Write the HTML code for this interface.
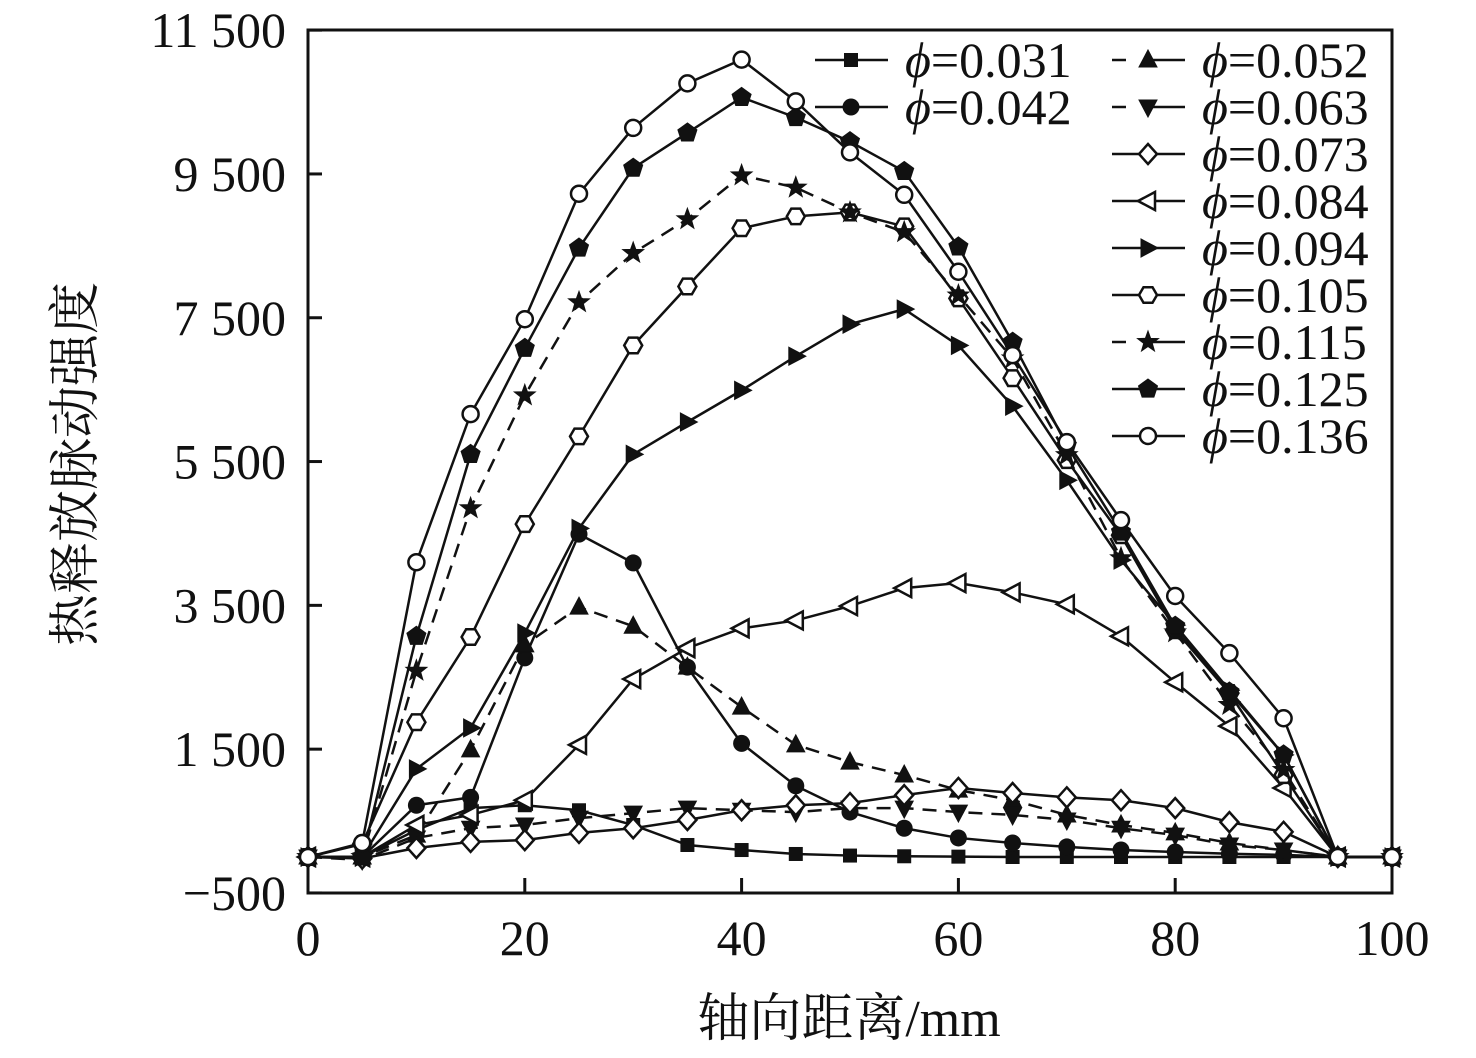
<!DOCTYPE html>
<html><head><meta charset="utf-8"><style>
body{margin:0;background:#fff;}
svg text{font-family:"Liberation Serif","Noto Serif CJK SC",serif;fill:#111;}
</style></head><body>
<svg id="chart" width="1476" height="1053" viewBox="0 0 1476 1053" xmlns="http://www.w3.org/2000/svg">
<rect x="308" y="30" width="1084" height="863" fill="none" stroke="#111" stroke-width="3"/>
<g id="ticks"></g>
<g id="series"></g>
<g id="legend"></g>
<text x="849" y="1036" font-size="52" text-anchor="middle">轴向距离/mm</text>
<text x="0" y="0" font-size="52" text-anchor="middle" transform="translate(93,464) rotate(-90)">热释放脉动强度</text>
</svg>
<script>
const xs=[0,5,10,15,20,25,30,35,40,45,50,55,60,65,70,75,80,85,90,95,100];
const labels=["ϕ=0.031","ϕ=0.042","ϕ=0.052","ϕ=0.063","ϕ=0.073","ϕ=0.084","ϕ=0.094","ϕ=0.105","ϕ=0.115","ϕ=0.125","ϕ=0.136"];
const s031=[0,0,375,680,720,650,445,167,97,42,20,10,5,0,0,0,0,0,0,0,0];
const s042=[0,0,720,830,2770,4490,4090,2640,1580,990,625,400,265,195,140,97,70,45,30,0,0];
const s052=[0,0,305,1490,2950,3475,3210,2640,2085,1560,1320,1140,930,790,585,445,335,195,97,0,0];
const s063=[0,-40,265,400,445,540,610,680,650,625,680,680,625,585,515,400,305,167,97,0,0];
const s073=[0,-20,125,210,235,335,400,515,650,720,750,860,960,890,830,790,680,485,350,0,0];
const s084=[0,0,445,585,790,1560,2475,2905,3180,3290,3490,3740,3810,3680,3515,3070,2430,1820,960,0,0];
const s094=[0,0,1225,1795,3115,4570,5600,6050,6490,6965,7410,7620,7115,6270,5240,4130,3225,2320,1420,0,0];
const s105=[0,180,1875,3060,4630,5850,7115,7935,8745,8910,8965,8770,7770,6660,5520,4475,3155,2280,1140,0,0];
const s115=[0,0,2590,4850,6420,7715,8400,8870,9480,9310,8965,8690,7810,6935,5590,4155,3125,2115,1210,0,0];
const s125=[0,0,3070,5600,7075,8470,9580,10070,10565,10285,9950,9535,8485,7160,5725,4520,3210,2295,1420,0,0];
const s136=[0,195,4100,6160,7480,9225,10140,10760,11090,10510,9800,9210,8140,6980,5770,4685,3630,2835,1930,0,0];
const yTicks=[-500,1500,3500,5500,7500,9500,11500];
const yTickLabels=["−500","1 500","3 500","5 500","7 500","9 500","11 500"];
const xTicks=[0,20,40,60,80,100];

const NS="http://www.w3.org/2000/svg";
const X=v=>308+v*10.84;
const Y=v=>857-v*0.0719;
function mk(t,a,p){const e=document.createElementNS(NS,t);for(const k in a)e.setAttribute(k,a[k]);p.appendChild(e);return e;}
const tk=document.getElementById('ticks');
yTicks.forEach((v,i)=>{
  const l=mk('line',{x1:308,x2:322,y1:Y(v),y2:Y(v),stroke:'#111','stroke-width':3},tk);
  
  
  const t=mk('text',{x:286,y:Y(v)+17,'font-size':50,'text-anchor':'end'},tk);
  t.textContent=yTickLabels[i];
  
  
});
xTicks.forEach(v=>{
  const l=mk('line',{x1:X(v),x2:X(v),y1:893,y2:878,stroke:'#111','stroke-width':3},tk);
  
  
  const t=mk('text',{x:X(v),y:955,'font-size':50,'text-anchor':'middle'},tk);
  t.textContent=String(v);
  
  
});
const data=[s031,s042,s052,s063,s073,s084,s094,s105,s115,s125,s136];
const marks=['square','circle','tri','dtri','diamond','ltri','rtri','hex','star','pent','ocircle'];
const dashed=[false,false,true,true,false,false,false,false,true,false,false];
function marker(g,type,cx,cy){
  let e;const r=9;
  if(type==='square')e=mk('rect',{x:cx-7,y:cy-7,width:14,height:14,fill:'#111'},g);
  else if(type==='circle')e=mk('circle',{cx,cy,r:8.5,fill:'#111'},g);
  else if(type==='ocircle')e=mk('circle',{cx,cy,r:8,fill:'#fff',stroke:'#111','stroke-width':2.5},g);
  else{
    let pts=[];
    if(type==='tri')pts=[[0,-10],[9,7],[-9,7]];
    else if(type==='dtri')pts=[[0,10],[9,-7],[-9,-7]];
    else if(type==='ltri')pts=[[-10,0],[7,-9],[7,9]];
    else if(type==='rtri')pts=[[10,0],[-7,-9],[-7,9]];
    else if(type==='diamond')pts=[[0,-10],[9,0],[0,10],[-9,0]];
    else if(type==='hex')for(let k=0;k<6;k++){const a=k*Math.PI/3;pts.push([r*Math.cos(a),r*Math.sin(a)]);}
    else if(type==='pent')for(let k=0;k<5;k++){const a=-Math.PI/2+k*2*Math.PI/5;pts.push([10*Math.cos(a),10*Math.sin(a)]);}
    else if(type==='star')for(let k=0;k<10;k++){const a=-Math.PI/2+k*Math.PI/5;const rr=k%2?4.5:11;pts.push([rr*Math.cos(a),rr*Math.sin(a)]);}
    const open=(type==='diamond'||type==='ltri'||type==='hex');
    e=mk('polygon',{points:pts.map(p=>(cx+p[0])+','+(cy+p[1])).join(' '),fill:open?'#fff':'#111',stroke:'#111','stroke-width':open?2.5:1},g);
  }
  return e;
}
const sg=document.getElementById('series');
data.forEach((arr,i)=>{
  const g=mk('g',{},sg);
  
  
  const pl=mk('polyline',{points:arr.map((v,j)=>X(xs[j])+','+Y(v)).join(' '),fill:'none',stroke:'#111','stroke-width':2.5,'stroke-dasharray':dashed[i]?'14 9':'none'},g);
  
  
  arr.forEach((v,j)=>{
    const m=marker(g,marks[i],X(xs[j]),Y(v));
    
    
  });
});
const lg=document.getElementById('legend');
labels.forEach((lab,i)=>{
  let lx,ly;
  if(i<2){lx=815;ly=60+i*47;}else if(i===2){lx=1112;ly=60;}else{lx=1112;ly=107+(i-3)*47;}
  const g=mk('g',{},lg);
  
  
  mk('line',{x1:lx,x2:lx+73,y1:ly,y2:ly,stroke:'#111','stroke-width':2.5,'stroke-dasharray':dashed[i]?'14 24 100':'none'},g);
  marker(g,marks[i],lx+36,ly);
  const t=mk('text',{x:lx+90,y:ly+17,'font-size':50},g);
  t.innerHTML='<tspan font-style="italic">ϕ</tspan>'+lab.slice(1);
});
</script>
</body></html>
